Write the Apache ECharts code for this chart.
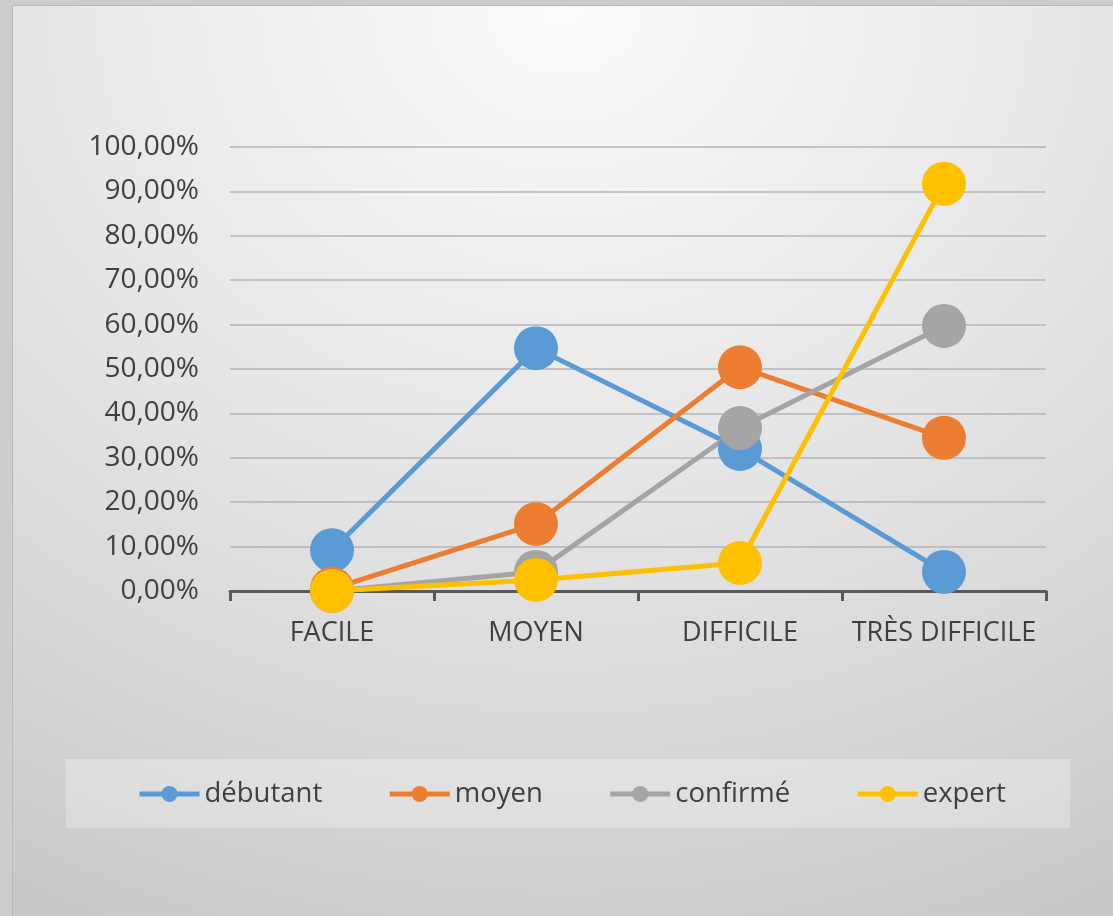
<!DOCTYPE html>
<html>
<head>
<meta charset="utf-8">
<script src="https://cdn.jsdelivr.net/npm/echarts@6/dist/echarts.min.js"></script>
<style>
html,body{margin:0;padding:0;width:1113px;height:916px;overflow:hidden;background:#cfcccc;}
#bg{position:absolute;left:12px;top:5px;width:1101px;height:911px;
 background:radial-gradient(ellipse 110% 115% at 50% 0%, #fbfbfb 0%, #ebebeb 35%, #d9d9d9 70%, #c6c6c6 100%);
 border-left:1px solid #b9b9b9;border-top:1px solid #b9b9b9;box-sizing:border-box;}
#chart{position:absolute;left:0;top:0;width:1113px;height:916px;}
</style>
</head>
<body>
<div id="bg"></div>
<div id="chart"></div>
<script>
const categories = ['FACILE', 'MOYEN', 'DIFFICILE', 'TRÈS DIFFICILE'];
const debutant = [0.092, 0.547, 0.320, 0.043];
const moyen = [0.005, 0.151, 0.504, 0.345];
const confirme = [0.0, 0.043, 0.367, 0.597];
const expert = [0.0, 0.025, 0.063, 0.917];
const seriesNames = ['débutant', 'moyen', 'confirmé', 'expert'];
const seriesColors = ['#5b9bd5', '#ed7d31', '#a5a5a5', '#ffc000'];
const seriesData = [debutant, moyen, confirme, expert];

const FONT = '"Open Sans", sans-serif';
const chart = echarts.init(document.getElementById('chart'), null, {renderer: 'canvas'});
const option = {
  backgroundColor: 'transparent',
  animation: false,
  graphic: [{
    type: 'rect', left: 66, top: 759, z: -10,
    shape: {width: 1004, height: 69},
    style: {fill: 'rgba(255,255,255,0.28)'}
  }],
  grid: {left: 230, right: 67, top: 147, bottom: 325},
  legend: {
    left: 137, top: 780, padding: 0,
    itemWidth: 60, itemHeight: 20, itemGap: 65,
    lineStyle: {width: 5},
    textStyle: {fontFamily: FONT, fontSize: 27.5, color: '#404040'},
    data: seriesNames
  },
  xAxis: {
    type: 'category',
    data: categories,
    boundaryGap: true,
    axisLine: {lineStyle: {color: '#595959', width: 3}},
    axisTick: {show: true, length: 10, lineStyle: {color: '#595959', width: 3}},
    axisLabel: {interval: 0, fontFamily: FONT, fontSize: 27, color: '#404040', margin: 29}
  },
  yAxis: {
    type: 'value', min: 0, max: 1, interval: 0.1,
    axisLine: {show: false},
    axisTick: {show: false},
    splitLine: {lineStyle: {color: '#b5b5b5', width: 1.5}},
    axisLabel: {
      fontFamily: FONT, fontSize: 28, color: '#404040', margin: 31,
      formatter: v => (v * 100).toFixed(2).replace('.', ',') + '%'
    }
  },
  series: seriesNames.map((n, i) => ({
    name: n, type: 'line', data: seriesData[i],
    symbol: 'circle', symbolSize: 44,
    lineStyle: {width: 5, color: seriesColors[i]},
    itemStyle: {color: seriesColors[i]},
    emphasis: {disabled: true}
  }))
};
chart.setOption(option);
</script>
</body>
</html>
